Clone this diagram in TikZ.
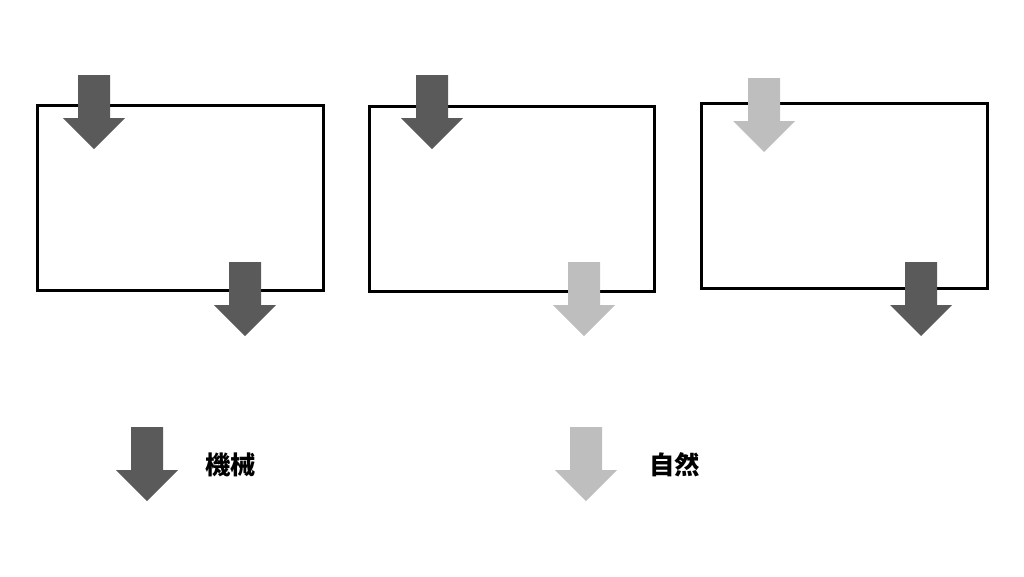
\documentclass[tikz,border=0pt]{standalone}
\usepackage{fontspec}
\usepackage{xcolor}
\newfontfamily\cjk{Noto Sans CJK JP}
\definecolor{machinegray}{HTML}{5A5A5A}
\definecolor{naturegray}{HTML}{BEBEBE}
\tikzset{
    box/.style={draw=black, line width=2.25pt},
    legend/.style={font=\cjk\bfseries\fontsize{19pt}{19pt}\selectfont, inner sep=0pt, anchor=west},
    pics/downarrow/.style={code={
        \fill[#1] (-16,0) -- (16,0) -- (16,43) -- (31,43) -- (0,74)
            -- (-31,43) -- (-16,43) -- cycle;
    }}
}

\begin{document}
\begin{tikzpicture}[x=0.75pt,y=-0.75pt]
\useasboundingbox (0,0) rectangle (1024,576);
% Three panels
\draw[box] (37,105) rectangle (323,290);
\draw[box] (369,106) rectangle (654,291);
\draw[box] (701,103) rectangle (987,288);
% Arrows in and out, then the legend arrows
\foreach \ax/\ay/\col [count=\i] in {94/75/machinegray, 245/262/machinegray,
    432/75/machinegray, 584/262/naturegray,
    764/78/naturegray, 921/262/machinegray,
    147/427/machinegray, 586/427/naturegray}
    \pic (arrow\i) at (\ax,\ay) {downarrow=\col};
% Legend
\node[legend] (machine) at (205,465) {機械};
\node[legend] (nature) at (649,465) {自然};
\end{tikzpicture}
\end{document}
